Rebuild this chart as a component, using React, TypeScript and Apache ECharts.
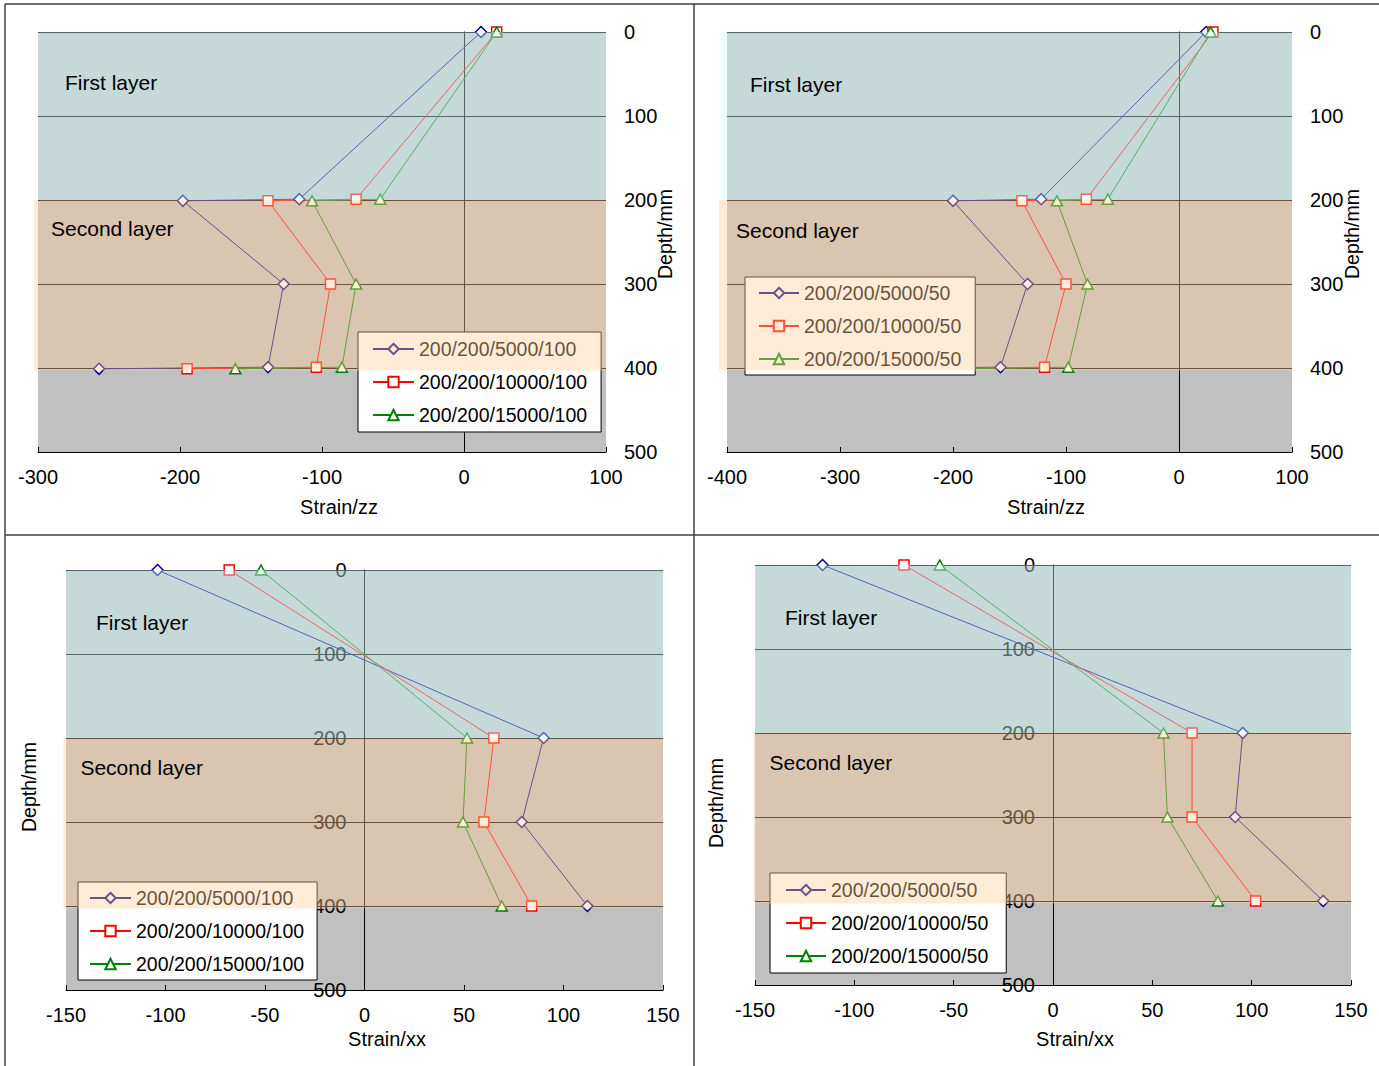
import React, { useEffect, useRef } from 'react';
import * as echarts from 'echarts';

const FONT = '"Liberation Sans", Arial, Helvetica, sans-serif';

// ---------- data ----------
const depthsTop = [0, 199, 201, 300, 399, 401];
const depthsBottom = [0, 200, 300, 400];

const names100 = ['200/200/5000/100', '200/200/10000/100', '200/200/15000/100'];
const names50 = ['200/200/5000/50', '200/200/10000/50', '200/200/15000/50'];

// Strain/zz, thickness 100
const zz100_5000 = [12, -116, -198, -127, -138, -257];
const zz100_10000 = [23, -76, -138, -94, -104, -195];
const zz100_15000 = [23, -59, -107, -76, -86, -161];
// Strain/zz, thickness 50
const zz50_5000 = [24, -122, -200, -134, -158, -300];
const zz50_10000 = [30, -82, -139, -100, -119, -225];
const zz50_15000 = [28, -63, -108, -81, -98, -190];
// Strain/xx, thickness 100
const xx100_5000 = [-104, 90, 79, 112];
const xx100_10000 = [-68, 65, 60, 84];
const xx100_15000 = [-52, 51.5, 49.5, 69];
// Strain/xx, thickness 50
const xx50_5000 = [-116, 95.5, 91.7, 136];
const xx50_10000 = [-75, 70, 70, 102];
const xx50_15000 = [-57, 55.6, 57.6, 83];

const yTicks = { min: 0, max: 500, interval: 100 };
const layerNames = ['First layer', 'Second layer'];
const layerDepths = [[0, 200], [200, 403]];

// ---------- styles ----------
const seriesStyles = [
  { color: '#000080', symbol: 'diamond', size: [11, 11] },
  { color: '#FF0000', symbol: 'rect', size: [10, 10] },
  { color: '#008000', symbol: 'triangle', size: [11, 10] },
];
const layerColors = ['rgba(204,255,255,0.4)', 'rgba(255,204,153,0.4)'];

const panels = [
  {
    grid: { left: 38, top: 32, width: 568, height: 420 },
    x: { min: -300, max: 100, interval: 100 },
    xName: 'Strain/zz', xNameGap: 45, xNameShift: 34,
    names: names100, depths: depthsTop,
    strains: [zz100_5000, zz100_10000, zz100_15000],
    labelsRight: true, labelOffset: 0, yNameGap: 49, yNamePad: [0, 0, 0, 16],
    legend: { left: 358, top: 332, padding: [7, 14, 7, 14], itemWidth: 41 },
    bandLeft: [-300, -302.8],
    textOff: [[27, 50], [17, 28]],
  },
  {
    grid: { left: 727, top: 32, width: 565, height: 420 },
    x: { min: -400, max: 100, interval: 100 },
    xName: 'Strain/zz', xNameGap: 45, xNameShift: 73,
    names: names50, depths: depthsTop,
    strains: [zz50_5000, zz50_10000, zz50_15000],
    labelsRight: true, labelOffset: 0, yNameGap: 50, yNamePad: [0, 0, 0, 16],
    legend: { left: 745, top: 277, padding: [6, 14, 6, 13], itemWidth: 40 },
    bandLeft: [-405.3, -407],
    textOff: [[29, 52], [17, 30]],
  },
  {
    grid: { left: 66, top: 570, width: 597, height: 420 },
    x: { min: -150, max: 150, interval: 50 },
    xName: 'Strain/xx', xNameGap: 39, xNameShift: 45,
    names: names100, depths: depthsBottom,
    strains: [xx100_5000, xx100_10000, xx100_15000],
    labelsRight: false, labelOffset: -298.5, yNameGap: 27, yNamePad: [0, 14, 0, 0],
    legend: { left: 78, top: 882, padding: [6, 13, 6, 11], itemWidth: 41 },
    bandLeft: [-150, -151.3],
    textOff: [[30, 52], [17, 29]],
  },
  {
    grid: { left: 755, top: 565, width: 596, height: 420 },
    x: { min: -150, max: 150, interval: 50 },
    xName: 'Strain/xx', xNameGap: 44, xNameShift: 44,
    names: names50, depths: depthsBottom,
    strains: [xx50_5000, xx50_10000, xx50_15000],
    labelsRight: false, labelOffset: -298, yNameGap: 29, yNamePad: [0, 56, 0, 0],
    legend: { left: 770, top: 873, padding: [7, 18, 7, 15], itemWidth: 40 },
    bandLeft: [-150, -150.7],
    textOff: [[30, 52], [16, 29]],
  },
];

function buildOption() {
  const grid: any[] = [];
  const xAxis: any[] = [];
  const yAxis: any[] = [];
  const series: any[] = [];
  const legend: any[] = [];
  const tickStyle = { color: '#000', fontSize: 20, fontFamily: FONT };
  const nameStyle = { color: '#000', fontSize: 20, fontFamily: FONT };

  panels.forEach((p, g) => {
    grid.push({ ...p.grid, show: true, backgroundColor: '#C0C0C0', borderWidth: 0, containLabel: false });
    xAxis.push({
      gridIndex: g, type: 'value', min: p.x.min, max: p.x.max, interval: p.x.interval,
      position: 'bottom',
      axisLine: { show: true, onZero: false, lineStyle: { color: '#000', width: 1 } },
      axisTick: { show: true, inside: true, length: 5, lineStyle: { color: '#000' } },
      axisLabel: { ...tickStyle, margin: 15 },
      splitLine: { show: false },
      name: p.xName, nameLocation: 'middle', nameGap: p.xNameGap,
      nameTextStyle: { ...nameStyle, padding: [0, 0, 0, p.xNameShift] },
    });
    const mainIdx = yAxis.length;
    // zero line + grid lines
    yAxis.push({
      gridIndex: g, type: 'value', inverse: true, ...yTicks,
      position: 'left',
      axisLine: { show: true, onZero: true, lineStyle: { color: '#000', width: 1 } },
      axisTick: { show: false },
      axisLabel: { show: false },
      splitLine: { show: true, lineStyle: { color: '#000', width: 1 } },
    });
    // tick labels
    yAxis.push({
      gridIndex: g, type: 'value', inverse: true, ...yTicks,
      position: p.labelsRight ? 'right' : 'left',
      offset: p.labelOffset,
      axisLine: { show: false, onZero: false },
      axisTick: p.labelsRight
        ? { show: false }
        : { show: true, length: 6, lineStyle: { color: '#000' } },
      axisLabel: { ...tickStyle, margin: 18 },
      splitLine: { show: false },
    });
    // axis title
    yAxis.push({
      gridIndex: g, type: 'value', inverse: true, ...yTicks,
      position: p.labelsRight ? 'right' : 'left',
      axisLine: { show: false, onZero: false },
      axisTick: { show: false },
      axisLabel: { show: false },
      splitLine: { show: false },
      name: 'Depth/mm', nameLocation: 'middle', nameRotate: 90, nameGap: p.yNameGap,
      nameTextStyle: { ...nameStyle, fontSize: 19.5, padding: p.yNamePad },
    });

    p.strains.forEach((vals, s) => {
      const st = seriesStyles[s];
      series.push({
        type: 'line', name: p.names[s], xAxisIndex: g, yAxisIndex: mainIdx,
        data: vals.map((v, i) => [v, p.depths[i]]),
        symbol: st.symbol, symbolSize: st.size,
        lineStyle: { color: st.color, width: 1 },
        itemStyle: { color: '#FFFFFF', borderColor: st.color, borderWidth: 1.5 },
        z: 2, silent: true,
      });
    });

    legend.push({
      data: p.names, orient: 'vertical', left: p.legend.left, top: p.legend.top,
      padding: p.legend.padding, itemGap: 13, itemWidth: p.legend.itemWidth, itemHeight: 13,
      backgroundColor: '#FFFFFF', borderColor: '#000', borderWidth: 1, borderRadius: 0,
      textStyle: { color: '#000', fontSize: 19.5, fontFamily: FONT, lineHeight: 19, padding: [0, 0, 0, 0] },
      selectedMode: false, z: 4,
    });

    // transparent layer overlays + layer captions
    const bandData = layerDepths.map((d, k) => [p.bandLeft[k], d[0], p.x.max, d[1]]);
    series.push({
      type: 'custom', xAxisIndex: g, yAxisIndex: mainIdx, z: 10, silent: true, clip: false,
      encode: { x: [0, 2], y: [1, 3] },
      data: bandData,
      renderItem: (params: any, api: any) => {
        const k = params.dataIndex;
        const p0 = api.coord([api.value(0), api.value(1)]);
        const p1 = api.coord([api.value(2), api.value(3)]);
        return {
          type: 'group',
          children: [
            { type: 'rect', shape: { x: p0[0], y: p0[1], width: p1[0] - p0[0], height: p1[1] - p0[1] },
              style: { fill: layerColors[k] } },
            { type: 'text', x: p0[0] + p.textOff[k][0], y: p0[1] + p.textOff[k][1],
              style: { text: layerNames[k], fill: '#000', fontSize: 21, fontFamily: FONT, align: 'left', verticalAlign: 'middle' } },
          ],
        };
      },
    });
  });

  const frame = { stroke: '#404040', lineWidth: 1.5 };
  return {
    animation: false,
    grid, xAxis, yAxis, series, legend,
    graphic: {
      elements: [
        { type: 'line', shape: { x1: 5, y1: 4, x2: 1379, y2: 4 }, style: frame },
        { type: 'line', shape: { x1: 5, y1: 4, x2: 5, y2: 1066 }, style: frame },
        { type: 'line', shape: { x1: 694, y1: 4, x2: 694, y2: 1066 }, style: frame },
        { type: 'line', shape: { x1: 5, y1: 535, x2: 1379, y2: 535 }, style: frame },
      ],
    },
  };
}

export default function App() {
  const ref = useRef<HTMLDivElement>(null);
  useEffect(() => {
    const chart = echarts.init(ref.current!, null, { renderer: 'svg' });
    chart.setOption(buildOption() as any);
    return () => chart.dispose();
  }, []);
  return (
    <div
      ref={ref}
      style={{ position: 'absolute', left: 0, top: 0, width: 1379, height: 1066, background: '#FFFFFF' }}
    />
  );
}
